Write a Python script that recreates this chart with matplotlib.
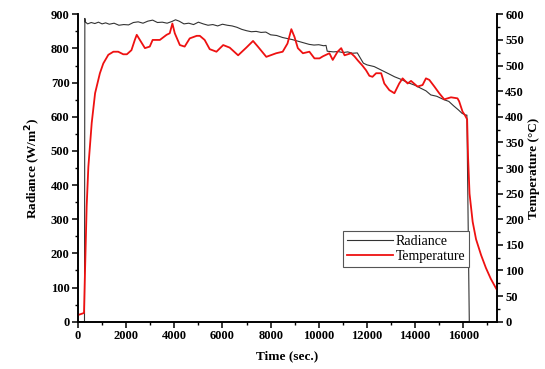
import matplotlib
matplotlib.use("Agg")
import matplotlib.pyplot as plt
from matplotlib.ticker import MultipleLocator

# ---- data ----
rad_time = [0, 270, 285, 300, 400, 550, 700, 850, 1000, 1150, 1300, 1500, 1700, 1900,
            2100, 2300, 2500, 2700, 2900, 3100, 3300, 3500, 3700, 3900, 4050, 4200,
            4400, 4600, 4800, 5000, 5200, 5400, 5600, 5800, 6000, 6200, 6400, 6600,
            6800, 7000, 7200, 7400, 7600, 7800, 8000, 8250, 8500, 8700, 8900, 9200,
            9400, 9600, 9800, 10000, 10200, 10300, 10350, 10600, 10800, 11000, 11200,
            11400, 11600, 11700, 11850, 12000, 12300, 12500, 12700, 12900, 13150,
            13400, 13700, 14000, 14250, 14450, 14650, 14900, 15200, 15400, 15600,
            15800, 15950, 16100, 16150, 16250]
rad_vals = [0, 0, 888, 878, 872, 876, 873, 877, 872, 875, 871, 874, 868, 870,
            869, 876, 878, 874, 880, 883, 876, 877, 874, 879, 884, 880,
            872, 874, 870, 877, 872, 868, 870, 866, 871, 868, 866, 862,
            856, 852, 849, 850, 847, 848, 840, 838, 832, 829, 826, 820,
            816, 812, 810, 811, 808, 809, 792, 790, 791, 788, 790,
            786, 787, 775, 757, 752, 747, 740, 733, 726, 717,
            710, 700, 692, 683, 676, 664, 660, 650, 645, 632,
            620, 610, 605, 605, 0]

temp_time = [0, 250, 290, 360, 430, 570, 710, 910, 1050, 1260, 1470, 1670, 1880,
             2030, 2220, 2360, 2440, 2570, 2780, 2980, 3100, 3400, 3680, 3810, 3920,
             4020, 4230, 4430, 4640, 4930, 5060, 5260, 5470, 5750, 6030, 6300, 6650,
             6990, 7270, 7470, 7820, 8230, 8500, 8700, 8860, 8990, 9130, 9340, 9610,
             9820, 10030, 10170, 10440, 10580, 10780, 10930, 11070, 11340, 11480,
             11620, 11810, 11960, 12100, 12230, 12380, 12590, 12720, 12930, 13140,
             13340, 13480, 13690, 13830, 14100, 14310, 14450, 14590, 14800, 15000,
             15210, 15490, 15760, 15830, 15970, 16070, 16160, 16200, 16260, 16390,
             16530, 16740, 16940, 17140, 17350, 17400]
temp_vals = [13, 17, 95, 225, 302, 388, 446, 485, 504, 521, 527, 527, 522,
             522, 530, 550, 560, 550, 534, 537, 550, 550, 560, 563, 582,
             563, 540, 537, 553, 558, 558, 550, 532, 527, 540, 535, 520,
             535, 548, 537, 517, 524, 527, 543, 571, 556, 534, 524, 527,
             514, 514, 518, 524, 511, 527, 534, 520, 524, 518,
             510, 500, 491, 480, 478, 485, 485, 465, 452, 446,
             465, 475, 465, 470, 459, 462, 475, 472, 459, 446,
             434, 438, 436, 430, 410, 403, 395, 320, 250, 195,
             161, 130, 105, 84, 66, 62]

x_ticks = [0, 2000, 4000, 6000, 8000, 10000, 12000, 14000, 16000]
rad_ticks = [0, 100, 200, 300, 400, 500, 600, 700, 800, 900]
temp_ticks = [0, 50, 100, 150, 200, 250, 300, 350, 400, 450, 500, 550, 600]

plt.rcParams['font.family'] = ['Liberation Serif', 'DejaVu Serif']

fig = plt.figure(figsize=(5.45, 3.69), dpi=100)
ax = fig.add_axes([0.1431, 0.1282, 0.7688, 0.8330])
ax2 = ax.twinx()

l1, = ax.plot(rad_time, rad_vals, color='#333333', lw=0.8, label='Radiance')
l2, = ax2.plot(temp_time, temp_vals, color='#ee1111', lw=1.3, label='Temperature')

ax.set_xlim(0, 17400)
ax.set_ylim(0, 900)
ax2.set_ylim(0, 600)

ax.set_xticks(x_ticks)
ax.set_yticks(rad_ticks)
ax2.set_yticks(temp_ticks)
ax.xaxis.set_minor_locator(MultipleLocator(1000))
ax.yaxis.set_minor_locator(MultipleLocator(50))
ax2.yaxis.set_minor_locator(MultipleLocator(25))

for a in (ax, ax2):
    a.spines['top'].set_visible(False)
    for s in a.spines.values():
        s.set_linewidth(1.2)
    a.tick_params(which='major', direction='out', length=4, width=1.1, labelsize=9, pad=2)
    a.tick_params(which='minor', direction='out', length=2.2, width=1.0)
    for lab in a.get_xticklabels() + a.get_yticklabels():
        lab.set_fontweight('bold')

ax.set_xlabel('Time (sec.)', fontsize=9.5, fontweight='bold', labelpad=6)
ax.set_ylabel('Radiance (W/m$^\\mathbf{2}$)', fontsize=9.5, fontweight='bold', labelpad=6)
ax2.set_ylabel('Temperature (°C)', fontsize=9.5, fontweight='bold', labelpad=3)

leg = ax2.legend(handles=[l1, l2], loc='upper left', bbox_to_anchor=(0.632, 0.296),
                 frameon=True, fancybox=False, edgecolor='#555555', framealpha=1,
                 fontsize=10, handlelength=3.3, handletextpad=0.2, borderpad=0.3,
                 labelspacing=0.15, borderaxespad=0)
leg.get_frame().set_linewidth(0.8)

fig.savefig('out.png', dpi=100)
